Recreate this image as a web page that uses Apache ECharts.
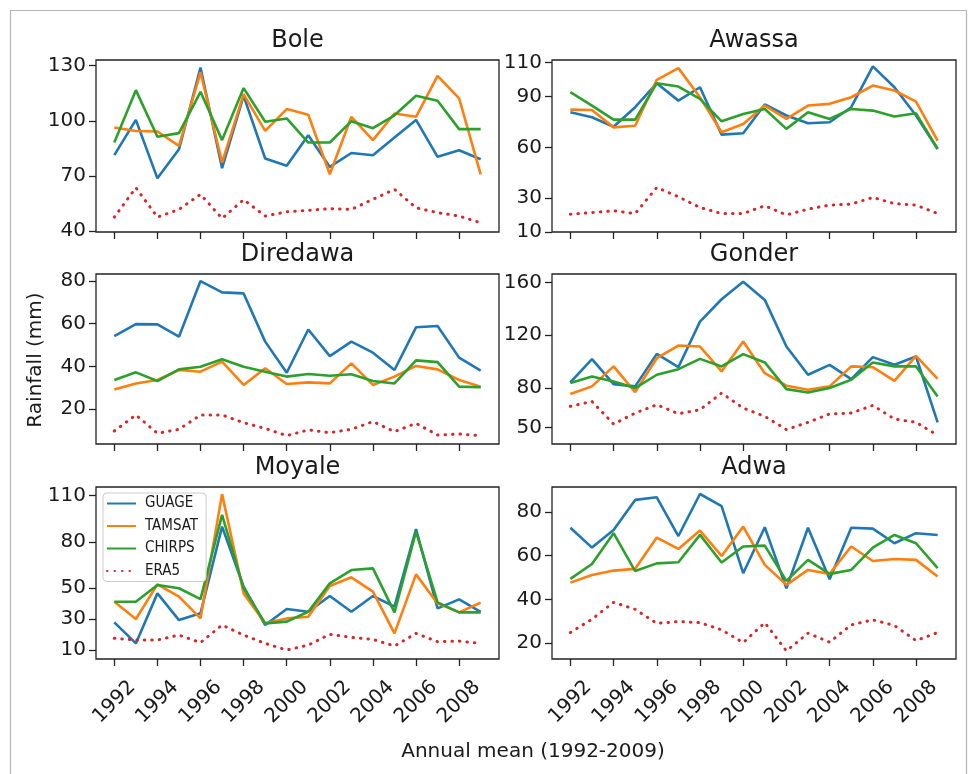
<!DOCTYPE html>
<html>
<head>
<meta charset="utf-8">
<script src="https://cdn.jsdelivr.net/npm/echarts@6/dist/echarts.min.js"></script>
<style>
html,body{margin:0;padding:0;background:#fff;}
#chart{width:968px;height:774px;}
</style>
</head>
<body>
<div id="chart"></div>
<script>
// ---------------- data ----------------
const years = [1992,1993,1994,1995,1996,1997,1998,1999,2000,2001,2002,2003,2004,2005,2006,2007,2008,2009];
const xTickLabels = [1992,1994,1996,1998,2000,2002,2004,2006,2008];
const seriesNames = ['GUAGE','TAMSAT','CHIRPS','ERA5'];
const stations = ['Bole','Awassa','Diredawa','Gonder','Moyale','Adwa'];

const boleGuage  = [81.3,100.5,68.7,84.5,129,74.2,113.6,79.5,75.5,92.2,74.9,82.5,81.3,90.9,100.5,80.4,84,79.1];
const boleTamsat = [96.4,94.5,94.2,86.4,126.4,77.3,114.5,94.5,106.4,103.3,70.9,102.2,89.5,104,102.2,124.5,112.2,70.9];
const boleChirps = [88.2,116.7,91.3,93.3,115.8,89.5,117.8,99.5,101.3,88.2,88.2,99.8,96,103,113.6,110.9,95.5,95.5];
const boleEra5   = [47.6,63.6,47.6,51.8,60,46.9,57.1,48.2,50.5,51.3,52.2,51.8,57.3,62.7,52.7,50,48.2,44.5];
const boleTicks  = [40,70,100,130];

const awassaGuage  = [80.7,77.8,72.2,83.7,97.9,87.6,95.5,67.5,68.3,85.3,78.8,74.2,74.8,83.7,107.8,95.5,78.8,59];
const awassaTamsat = [82.3,82.1,71.8,72.8,99.9,106.8,89.6,68.9,73.8,84.7,76.8,84.7,85.7,89.6,96.5,93.6,87,63.9];
const awassaChirps = [92.6,84.7,76.4,76.4,97.9,95.9,88.6,75.4,79.7,82.7,70.9,80.7,76.8,82.7,81.7,78.2,80.1,59];
const awassaEra5   = [20.5,21.5,22.5,20.9,36.3,30.8,24.5,20.9,20.9,25.5,20.1,23.5,25.9,26.5,30.4,26.8,25.9,20.9];
const awassaTicks  = [10,30,60,90,110];

const diredawaGuage  = [54.2,59.8,59.7,53.9,80,74.7,74.2,51.6,37,57.3,44.8,51.6,46.4,38.3,58.3,58.9,44.1,38];
const diredawaTamsat = [29.2,32,33.6,38.3,37.5,42.2,31.3,39.1,31.7,32.5,32,41.4,31.3,35.2,40.2,38.6,33.6,30.5];
const diredawaChirps = [33.6,37.2,33.1,38.6,39.8,43.3,39.8,37.5,35.2,36.4,35.6,36.3,33.1,32,42.8,42,30.5,30.2];
const diredawaEra5   = [9.7,17.2,8.6,10.5,17.2,17.2,13.6,10.9,7.5,10.2,8.9,10.5,14.1,9.4,13.3,7.8,8.3,7.5];
const diredawaTicks  = [20,40,60,80];

const gonderGuage  = [84.3,101.9,83,81.3,105.9,95.8,130.3,147.2,160.5,146.7,111.4,90.1,97.6,86.8,103.4,97.6,103.9,54.1];
const gonderTamsat = [75.5,81.3,96.4,77,102.6,112.2,111.4,92.6,115.2,91.3,81.8,78.7,81.3,96.4,95.8,85.5,104.4,87];
const gonderChirps = [83.8,88.8,85,80,90.1,94.3,102.1,96.4,105.7,99.4,79.2,76.7,80,86.3,99.4,96.4,96.4,73.7];
const gonderEra5   = [66.2,69.9,52.8,61.1,67.4,60.6,63.6,76.2,64.9,58.6,48.6,54.1,60.4,61.1,66.9,56.6,54.1,44.3];
const gonderTicks  = [50,80,120,160];

const moyaleGuage  = [27.9,14.3,46.7,29.4,33.8,89.9,51,26.2,36.6,34.8,45,34.8,45,38.1,88.4,37,42.8,34.8];
const moyaleTamsat = [41.3,30.1,52.5,44.6,30.5,111,46.7,27.3,30.5,31.6,51.5,57.1,47.8,20.8,59,40.2,34.4,40.7];
const moyaleChirps = [41.3,41.3,52.1,50,43,97.5,50,27.3,28.4,34.8,53.2,61.8,62.9,34.4,86.7,40.9,34.4,34.4];
const moyaleEra5   = [17.6,16.5,16.5,19.7,14.8,26.2,19.7,14.3,10,13.2,20.2,18.2,16.9,12.6,20.8,15.4,15.8,14.3];
const moyaleTicks  = [10,30,50,80,110];

const adwaGuage  = [72.8,63.7,71.8,85.5,86.7,69,88.2,82.7,52,73,45.1,72.8,49.2,72.8,72.4,65.7,70.3,69.5];
const adwaTamsat = [47.7,51.2,53.2,54,68.3,63.1,71.5,59.9,73.3,55.8,46.7,53.5,51.7,64.2,57.6,58.5,58.1,50.5];
const adwaChirps = [49.4,56.2,70.3,53,56.5,57,69.5,56.9,64.2,64.6,48.5,58.1,51.7,53.5,63.7,69.5,65.7,54.3];
const adwaEra5   = [24.9,31,38.7,35.5,29.1,29.9,29.4,26.1,20.3,29.4,16.5,24.6,20.5,28.4,30.7,28.1,21.2,24.9];
const adwaTicks  = [20,40,60,80];

const yLabel = 'Rainfall (mm)';
const xLabel = 'Annual mean (1992-2009)';

// ---------------- layout ----------------
const panelData = [
  {name: stations[0], vals: [boleGuage, boleTamsat, boleChirps, boleEra5], ticks: boleTicks},
  {name: stations[1], vals: [awassaGuage, awassaTamsat, awassaChirps, awassaEra5], ticks: awassaTicks},
  {name: stations[2], vals: [diredawaGuage, diredawaTamsat, diredawaChirps, diredawaEra5], ticks: diredawaTicks},
  {name: stations[3], vals: [gonderGuage, gonderTamsat, gonderChirps, gonderEra5], ticks: gonderTicks},
  {name: stations[4], vals: [moyaleGuage, moyaleTamsat, moyaleChirps, moyaleEra5], ticks: moyaleTicks},
  {name: stations[5], vals: [adwaGuage, adwaTamsat, adwaChirps, adwaEra5], ticks: adwaTicks}
];
const layout = [
  {left:96,  top:60,  width:403, height:172, ymin:39.5, ymax:133.1},
  {left:552, top:60,  width:404, height:172, ymin:10,   ymax:111.6},
  {left:96,  top:274, width:403, height:170, ymin:3.6,  ymax:83.3},
  {left:552, top:274, width:404, height:170, ymin:37.7, ymax:166.3},
  {left:96,  top:487, width:403, height:172, ymin:4.2,  ymax:115.6},
  {left:552, top:487, width:404, height:172, ymin:12.8, ymax:91.4}
];
const colors = ['#1f77b4','#ff7f0e','#2ca02c','#d62728'];
const FONT = 'DejaVu Sans';
const ink = '#1a1a1a';

const grid = [], xAxis = [], yAxis = [], series = [], title = [];
layout.forEach((L, i) => {
  grid.push({left:L.left, top:L.top, width:L.width, height:L.height, show:true,
             borderColor:'#222', borderWidth:1.3, backgroundColor:'transparent'});
  const bottomRow = i >= 4;
  xAxis.push({
    type:'value', gridIndex:i, min:1991.15, max:2009.85,
    splitLine:{show:false}, axisLine:{show:false},
    axisTick:{show:true, inside:false, length:7, customValues:xTickLabels, lineStyle:{color:'#222', width:1.3}},
    axisLabel:{show:bottomRow, customValues:xTickLabels, rotate:45, align:'center', verticalAlign:'middle',
               margin:43, fontSize:20, fontFamily:FONT, color:ink, formatter:v => String(v)}
  });
  yAxis.push({
    type:'value', gridIndex:i, min:L.ymin, max:L.ymax,
    splitLine:{show:false}, axisLine:{show:false},
    axisTick:{show:true, inside:false, length:7, customValues:panelData[i].ticks, lineStyle:{color:'#222', width:1.3}},
    axisLabel:{show:true, customValues:panelData[i].ticks, margin:10, fontSize:20, fontFamily:FONT, color:ink,
               formatter:v => String(v)}
  });
  title.push({text:panelData[i].name, left:L.left + L.width/2, top:L.top - 31, textAlign:'center', padding:0,
              textStyle:{fontSize:24, fontWeight:'normal', fontFamily:FONT, color:ink}});
  panelData[i].vals.forEach((arr, k) => {
    const isEra = k === 3;
    series.push({
      name:seriesNames[k], type:'line', xAxisIndex:i, yAxisIndex:i,
      data: years.map((y, j) => [y, arr[j]]),
      symbol:'none', smooth:false, silent:true, animation:false,
      lineStyle: isEra ? {color:colors[k], width:3, type:[0.5, 7], cap:'round'}
                       : {color:colors[k], width:2.6},
      itemStyle:{color:colors[k]}
    });
  });
});

const chart = echarts.init(document.getElementById('chart'), null, {renderer:'canvas'});
chart.setOption({
  animation:false,
  backgroundColor:'#fff',
  title: title,
  grid: grid, xAxis: xAxis, yAxis: yAxis, series: series,
  legend: {
    data: seriesNames, orient:'vertical', left:103, top:493, width:100,
    backgroundColor:'rgba(255,255,255,0.85)', borderColor:'#cccccc', borderWidth:1, borderRadius:4,
    padding:[3, 8, 3, 3], itemWidth:29, itemHeight:14, itemGap:7.5, selectedMode:false,
    itemStyle:{opacity:0},
    textStyle:{fontFamily:'Liberation Sans Narrow, DejaVu Sans Condensed, sans-serif', fontSize:15, color:ink, padding:[0,0,0,4]},
    z:10
  },
  graphic: [
    {type:'rect', shape:{x:10.5, y:10.5, width:956, height:800}, style:{fill:'none', stroke:'#b4b4b4', lineWidth:1.2}, silent:true, z:0},
    {type:'text', x:36, y:360, rotation:Math.PI/2, style:{text:yLabel, align:'center', verticalAlign:'middle',
       font:'20px "DejaVu Sans"', fill:ink}},
    {type:'text', x:533, y:752, style:{text:xLabel, align:'center', verticalAlign:'middle',
       font:'20px "DejaVu Sans"', fill:ink}}
  ]
});
</script>
</body>
</html>
